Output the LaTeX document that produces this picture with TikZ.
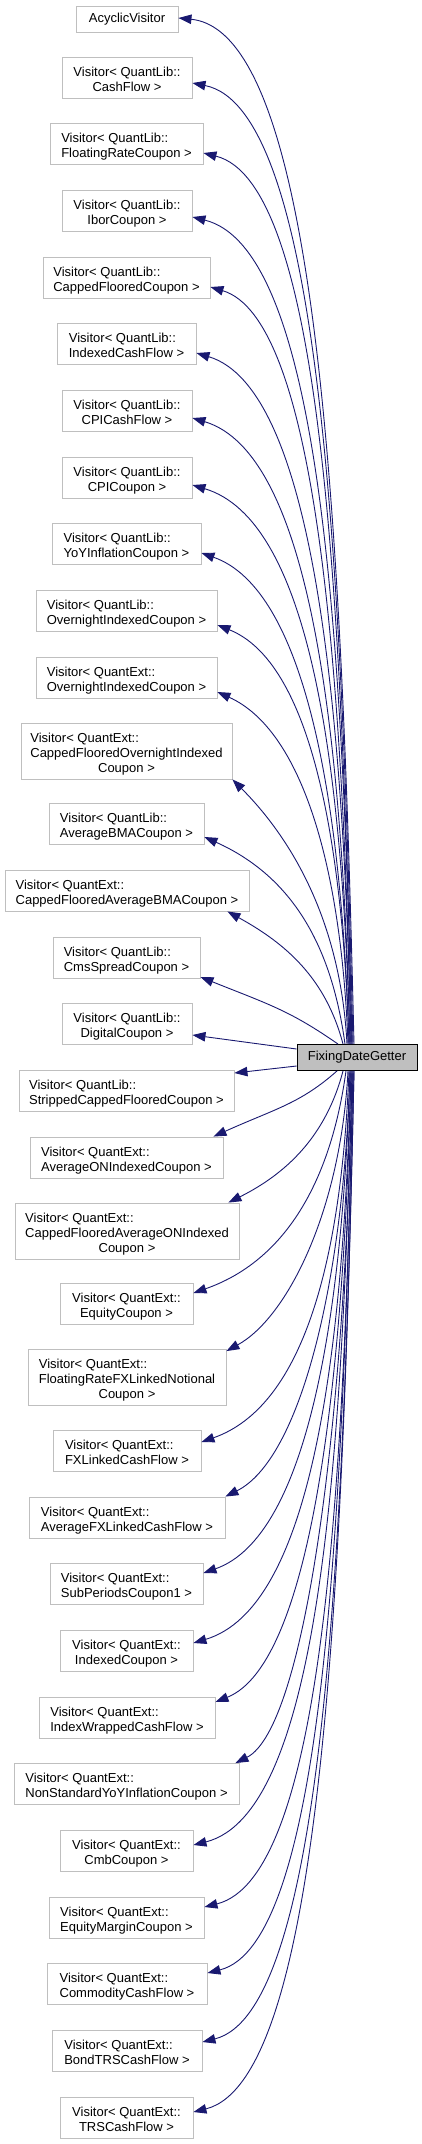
\documentclass[tikz,border=0pt]{standalone}
\usepackage{fontspec}
\setmainfont{Liberation Sans}
\usetikzlibrary{arrows.meta,calc}
\definecolor{edgec}{RGB}{25,25,112}
\definecolor{boxgray}{RGB}{191,191,191}
\newcommand\lbtwo[2]{\begin{tabular}{@{}l@{}}\rule{0pt}{16.5pt}#1\\\multicolumn{1}{@{}c@{}}{#2}\end{tabular}}
\newcommand\lbthree[3]{\begin{tabular}{@{}l@{}}\rule{0pt}{16.5pt}#1\\#2\\\multicolumn{1}{@{}c@{}}{#3}\end{tabular}}
\tikzset{
  box/.style={draw=boxgray, line width=0.9pt, fill=white, inner sep=0pt,
    font=\fontsize{13}{15}\selectfont},
  sz/.style 2 args={minimum width=#1pt, minimum height=#2pt},
  main/.style={draw=black, fill=boxgray, line width=0.9pt},
  edge/.style={draw=edgec, line width=0.9pt, -{Triangle[length=13pt,width=9.5pt]}},
}
% #1 xshift of start on fdg, #2 tip, #3 k, #4 s, #5 f
\newcommand\edgeU[5]{%
  \draw[edge] let \p1=([xshift=#1pt]fdg.north), \p2=(#2) in
    (\p1) .. controls ({\x1-#5*(\x1-\x2)},{(\y1+\y2)/2}) and
    ({\x2+#3*(\x1-\x2)},{\y2-#4*#3*(\x1-\x2)}) .. (\p2);}
\newcommand\edgeD[5]{%
  \draw[edge] let \p1=([xshift=#1pt]fdg.south), \p2=(#2) in
    (\p1) .. controls ({\x1-#5*(\x1-\x2)},{(\y1+\y2)/2}) and
    ({\x2+#3*(\x1-\x2)},{\y2+#4*#3*(\x1-\x2)}) .. (\p2);}
\begin{document}
\begin{tikzpicture}[x=1pt,y=-1pt]
\useasboundingbox (0,0) rectangle (422,2144);
\node[box,sz={102}{26}] (b1) at (127,19) {AcyclicVisitor};
\node[box,sz={130}{41}] (b2) at (127,77.5) {\lbtwo{Visitor< QuantLib::}{CashFlow >}};
\node[box,sz={153}{41}] (b3) at (126.5,144) {\lbtwo{Visitor< QuantLib::}{FloatingRateCoupon >}};
\node[box,sz={130}{41}] (b4) at (127,210.5) {\lbtwo{Visitor< QuantLib::}{IborCoupon >}};
\node[box,sz={167}{41}] (b5) at (126.5,277.5) {\lbtwo{Visitor< QuantLib::}{CappedFlooredCoupon >}};
\node[box,sz={139}{41}] (b6) at (126.5,344) {\lbtwo{Visitor< QuantLib::}{IndexedCashFlow >}};
\node[box,sz={130}{41}] (b7) at (127,411) {\lbtwo{Visitor< QuantLib::}{CPICashFlow >}};
\node[box,sz={130}{41}] (b8) at (127,477.5) {\lbtwo{Visitor< QuantLib::}{CPICoupon >}};
\node[box,sz={149}{41}] (b9) at (126.5,544) {\lbtwo{Visitor< QuantLib::}{YoYInflationCoupon >}};
\node[box,sz={181}{41}] (b10) at (126.5,610.5) {\lbtwo{Visitor< QuantLib::}{OvernightIndexedCoupon >}};
\node[box,sz={181}{41}] (b11) at (126.5,677.5) {\lbtwo{Visitor< QuantExt::}{OvernightIndexedCoupon >}};
\node[box,sz={211}{56}] (b12) at (126.5,751) {\lbthree{Visitor< QuantExt::}{CappedFlooredOvernightIndexed}{Coupon >}};
\node[box,sz={155}{41}] (b13) at (126.5,824) {\lbtwo{Visitor< QuantLib::}{AverageBMACoupon >}};
\node[box,sz={244}{41}] (b14) at (127,890.5) {\lbtwo{Visitor< QuantExt::}{CappedFlooredAverageBMACoupon >}};
\node[box,sz={147}{41}] (b15) at (126.5,957.5) {\lbtwo{Visitor< QuantLib::}{CmsSpreadCoupon >}};
\node[box,sz={130}{41}] (b16) at (127,1024) {\lbtwo{Visitor< QuantLib::}{DigitalCoupon >}};
\node[box,main,sz={120}{26}] (fdg) at (357,1057.5) {FixingDateGetter};
\node[box,sz={215}{41}] (b17) at (126.5,1091) {\lbtwo{Visitor< QuantLib::}{StrippedCappedFlooredCoupon >}};
\node[box,sz={193}{41}] (b18) at (126.5,1157.5) {\lbtwo{Visitor< QuantExt::}{AverageONIndexedCoupon >}};
\node[box,sz={224}{56}] (b19) at (127,1231) {\lbthree{Visitor< QuantExt::}{CappedFlooredAverageONIndexed}{Coupon >}};
\node[box,sz={133}{41}] (b20) at (126.5,1304) {\lbtwo{Visitor< QuantExt::}{EquityCoupon >}};
\node[box,sz={198}{56}] (b21) at (127,1377.5) {\lbthree{Visitor< QuantExt::}{FloatingRateFXLinkedNotional}{Coupon >}};
\node[box,sz={148}{41}] (b22) at (127,1450.5) {\lbtwo{Visitor< QuantExt::}{FXLinkedCashFlow >}};
\node[box,sz={196}{41}] (b23) at (127,1517.5) {\lbtwo{Visitor< QuantExt::}{AverageFXLinkedCashFlow >}};
\node[box,sz={153}{41}] (b24) at (126.5,1584) {\lbtwo{Visitor< QuantExt::}{SubPeriodsCoupon1 >}};
\node[box,sz={133}{41}] (b25) at (126.5,1650.5) {\lbtwo{Visitor< QuantExt::}{IndexedCoupon >}};
\node[box,sz={176}{41}] (b26) at (127,1717.5) {\lbtwo{Visitor< QuantExt::}{IndexWrappedCashFlow >}};
\node[box,sz={225}{41}] (b27) at (126.5,1784) {\lbtwo{Visitor< QuantExt::}{NonStandardYoYInflationCoupon >}};
\node[box,sz={133}{41}] (b28) at (126.5,1850.5) {\lbtwo{Visitor< QuantExt::}{CmbCoupon >}};
\node[box,sz={155}{41}] (b29) at (126.5,1917.5) {\lbtwo{Visitor< QuantExt::}{EquityMarginCoupon >}};
\node[box,sz={160}{41}] (b30) at (127,1984) {\lbtwo{Visitor< QuantExt::}{CommodityCashFlow >}};
\node[box,sz={150}{41}] (b31) at (127,2050.5) {\lbtwo{Visitor< QuantExt::}{BondTRSCashFlow >}};
\node[box,sz={133}{41}] (b32) at (126.5,2117.5) {\lbtwo{Visitor< QuantExt::}{TRSCashFlow >}};
% upper edges
\edgeU{-3}{[yshift=1pt]b1.east}{0.8}{0.1}{0.07}
\edgeU{-4}{[yshift=-5.5pt]b2.east}{0.8}{0.2}{0.07}
\edgeU{-5}{[yshift=-9pt]b3.east}{0.8}{0.25}{0.07}
\edgeU{-5}{[yshift=-6.5pt]b4.east}{0.8}{0.25}{0.06}
\edgeU{-6}{[yshift=-9.5pt]b5.east}{0.75}{0.3}{0.06}
\edgeU{-6}{[yshift=-9pt]b6.east}{0.75}{0.3}{0.05}
\edgeU{-7}{[yshift=-7pt]b7.east}{0.75}{0.3}{0.05}
\edgeU{-7}{[yshift=-7.5pt]b8.east}{0.75}{0.3}{0.05}
\edgeU{-8}{[yshift=-9pt]b9.east}{0.7}{0.35}{0.05}
\edgeU{-8}{[yshift=-14.5pt]b10.east}{0.7}{0.4}{0.05}
\edgeU{-9}{[yshift=-14.5pt]b11.east}{0.65}{0.45}{0.05}
\edgeU{-10}{b12.south east}{0.45}{1.0}{0.06}
\edgeU{-12}{[yshift=-13pt]b13.east}{0.6}{0.45}{0.1}
\edgeU{-14}{[xshift=-22pt]b14.south east}{0.5}{0.55}{0.15}
\edgeU{-19}{[yshift=-19.5pt]b15.east}{0.5}{0.4}{0.35}
\draw[edge] ([yshift=8.5pt]fdg.west) -- ([yshift=-11pt]b16.east);
% lower edges
\draw[edge] ([yshift=-8.5pt]fdg.west) -- ([yshift=18pt]b17.east);
\edgeD{-20}{[xshift=-10pt]b18.north east}{0.5}{0.45}{0.3}
\edgeD{-14}{[xshift=-11pt]b19.north east}{0.5}{0.5}{0.15}
\edgeD{-11}{[yshift=11pt]b20.east}{0.6}{0.35}{0.1}
\edgeD{-9}{[yshift=-2pt]b21.north east}{0.5}{0.55}{0.06}
\edgeD{-8}{[yshift=8.5pt]b22.east}{0.7}{0.35}{0.05}
\edgeD{-7}{b23.north east}{0.6}{0.5}{0.05}
\edgeD{-7}{[yshift=11pt]b24.east}{0.7}{0.35}{0.05}
\edgeD{-6}{[yshift=7.5pt]b25.east}{0.75}{0.3}{0.05}
\edgeD{-6}{[yshift=15.5pt]b26.east}{0.7}{0.4}{0.05}
\edgeD{-5}{[xshift=-4pt]b27.north east}{0.6}{0.5}{0.05}
\edgeD{-5}{[yshift=5.5pt]b28.east}{0.8}{0.25}{0.06}
\edgeD{-4}{[yshift=10.5pt]b29.east}{0.8}{0.25}{0.06}
\edgeD{-4}{[yshift=11pt]b30.east}{0.8}{0.25}{0.07}
\edgeD{-3}{[yshift=8.5pt]b31.east}{0.8}{0.25}{0.07}
\edgeD{-3}{[yshift=5.5pt]b32.east}{0.8}{0.25}{0.07}
\end{tikzpicture}
\end{document}
